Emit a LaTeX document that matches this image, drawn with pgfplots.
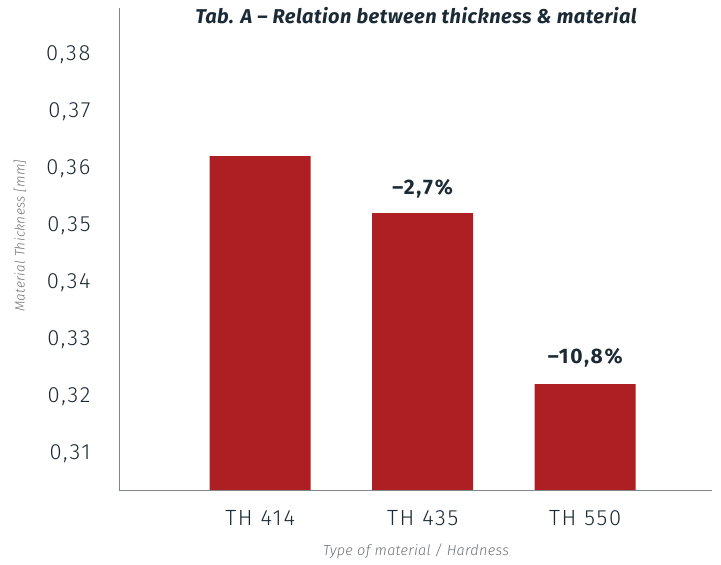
\documentclass[border=0pt]{standalone}
\usepackage{fontspec}
\setmainfont{Fira Sans}
\newfontfamily\lightfont[LetterSpace=2]{Fira Sans Light}
\newfontfamily\lightwide[LetterSpace=8]{Fira Sans Light}
\newfontfamily\wide[LetterSpace=8]{Fira Sans}
\newfontfamily\titlefont[LetterSpace=2.5]{Fira Sans}
\usepackage{pgfplots}
\pgfplotsset{compat=1.18}
\definecolor{barred}{HTML}{AE1F24}
\definecolor{navy}{HTML}{1B2A35}
\definecolor{axisgrey}{HTML}{7F878C}
\definecolor{labgrey}{HTML}{6B747A}
\begin{document}
\begin{tikzpicture}[x=1pt,y=1pt]
\path[use as bounding box] (0,0) rectangle (721,565);
\begin{axis}[
  at={(119pt,75pt)}, anchor=south west,
  scale only axis, width=593pt, height=482pt,
  xmin=-0.868, xmax=2.78, ymin=0.3034, ymax=0.3880,
  ybar, bar width=101pt,
  axis lines=left,
  axis line style={-, draw=axisgrey, line width=0.9pt},
  major tick length=0pt,
  xtick={0,1,2}, xticklabels={TH 414, TH 435, TH 550},
  ytick={0.31,0.32,0.33,0.34,0.35,0.36,0.37,0.38},
  /pgf/number format/assume math mode=true,
  yticklabel style={font=\lightwide\fontsize{22}{22}\selectfont, text=navy, xshift=-25pt, yshift=-1pt,
    /pgf/number format/.cd, fixed, fixed zerofill, precision=2, use comma},
  xticklabel style={font=\lightwide\fontsize{22}{22}\selectfont, text=navy, yshift=-17pt},
  clip=false,
]
\addplot[fill=barred, draw=none] coordinates {(0,0.362) (1,0.352) (2,0.322)};
\node[font=\wide\bfseries\fontsize{21}{21}\selectfont, text=navy, yshift=24pt] at (axis cs:1,0.352) {–2,7\%};
\node[font=\wide\bfseries\fontsize{21}{21}\selectfont, text=navy, yshift=26pt] at (axis cs:2,0.322) {–10,8\%};
\end{axis}
\node[font=\titlefont\bfseries\itshape\fontsize{20}{20}\selectfont, text=navy] at (416,549) {Tab. A – Relation between thickness \& material};
\node[font=\lightfont\itshape\fontsize{13.5}{13.5}\selectfont, text=labgrey, rotate=90] at (20,329) {Material Thickness [mm]};
\node[font=\lightfont\itshape\fontsize{14.5}{14.5}\selectfont, text=labgrey] at (416,14) {Type of material / Hardness};
\end{tikzpicture}
\end{document}
